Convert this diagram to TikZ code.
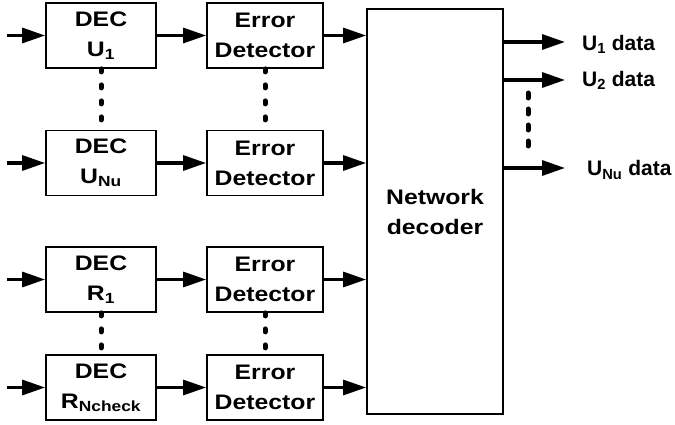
\documentclass[tikz,border=0pt]{standalone}
\usepackage{fontspec}
\setmainfont{Liberation Sans}
\newfontfamily\boxfont[FakeStretch=1.18]{Liberation Sans}
\usetikzlibrary{arrows.meta}
\begin{document}
\begin{tikzpicture}[x=1pt,y=-1pt,
  blk/.style={draw,line width=1.8pt,inner sep=0pt,align=center,
    font=\boxfont\bfseries\fontsize{21}{30}\selectfont},
  decbox/.style={blk,minimum width=110pt,minimum height=65pt},
  errbox/.style={blk,minimum width=116pt,minimum height=65pt},
  arr/.style={line width=3.2pt,-{Triangle[length=23pt,width=15pt]}},
  vdots/.style={line width=5pt,line cap=round,dash pattern=on 3pt off 13pt},
  odots/.style={line width=5pt,line cap=round,dash pattern=on 5pt off 11pt},
  lab/.style={anchor=west,inner sep=0pt,font=\bfseries\fontsize{21}{24}\selectfont}]
\useasboundingbox (0,0) rectangle (675,425);

% DEC boxes
\node[decbox] (d1) at (101,35.5) {DEC\\U\textsubscript{1}};
\node[decbox] (d2) at (101,163) {DEC\\U\textsubscript{Nu}};
\node[decbox] (d3) at (101,279.5) {DEC\\R\textsubscript{1}};
\node[decbox] (d4) at (101,387.5) {DEC\\R\textsubscript{Ncheck}};

% Error detector boxes
\node[errbox] (e1) at (265,35.5) {Error\\Detector};
\node[errbox] (e2) at (265,163) {Error\\Detector};
\node[errbox] (e3) at (265,279.5) {Error\\Detector};
\node[errbox] (e4) at (265,387.5) {Error\\Detector};

% Network decoder
\node[blk,minimum width=136pt,minimum height=405pt] (n) at (435,211.5) {Network\\decoder};

% inputs
\coordinate (i1) at (7,35.5);
\coordinate (i2) at (7,163);
\coordinate (i3) at (7,279.5);
\coordinate (i4) at (7,387.5);
\foreach \k in {1,2,3,4}{
  \draw[arr] (i\k) -- (d\k.west);
  \draw[arr] (d\k.east) -- (e\k.west);
  \draw[arr] (e\k.east) -- (e\k.east -| n.west);
}

% vertical dots
\draw[vdots] (d1.south) -- (d2.north);
\draw[vdots] (e1.south) -- (e2.north);
\draw[vdots] (d3.south) -- (d4.north);
\draw[vdots] (e3.south) -- (e4.north);

% outputs
\coordinate (o1) at (565,42);
\coordinate (o2) at (565,80);
\coordinate (o3) at (565,168);
\draw[arr] (o1 -| n.east) -- (o1);
\draw[arr] (o2 -| n.east) -- (o2);
\draw[arr] (o3 -| n.east) -- (o3);
\node[lab] (l1) at (582,44) {U\textsubscript{1} data};
\node[lab] (l2) at (582,80) {U\textsubscript{2} data};
\node[lab] (l3) at (587,170) {U\textsubscript{Nu} data};

\coordinate (p1) at (528,93);
\coordinate (p2) at (528,148);
\draw[odots] (p1) -- (p2);
\end{tikzpicture}
\end{document}
